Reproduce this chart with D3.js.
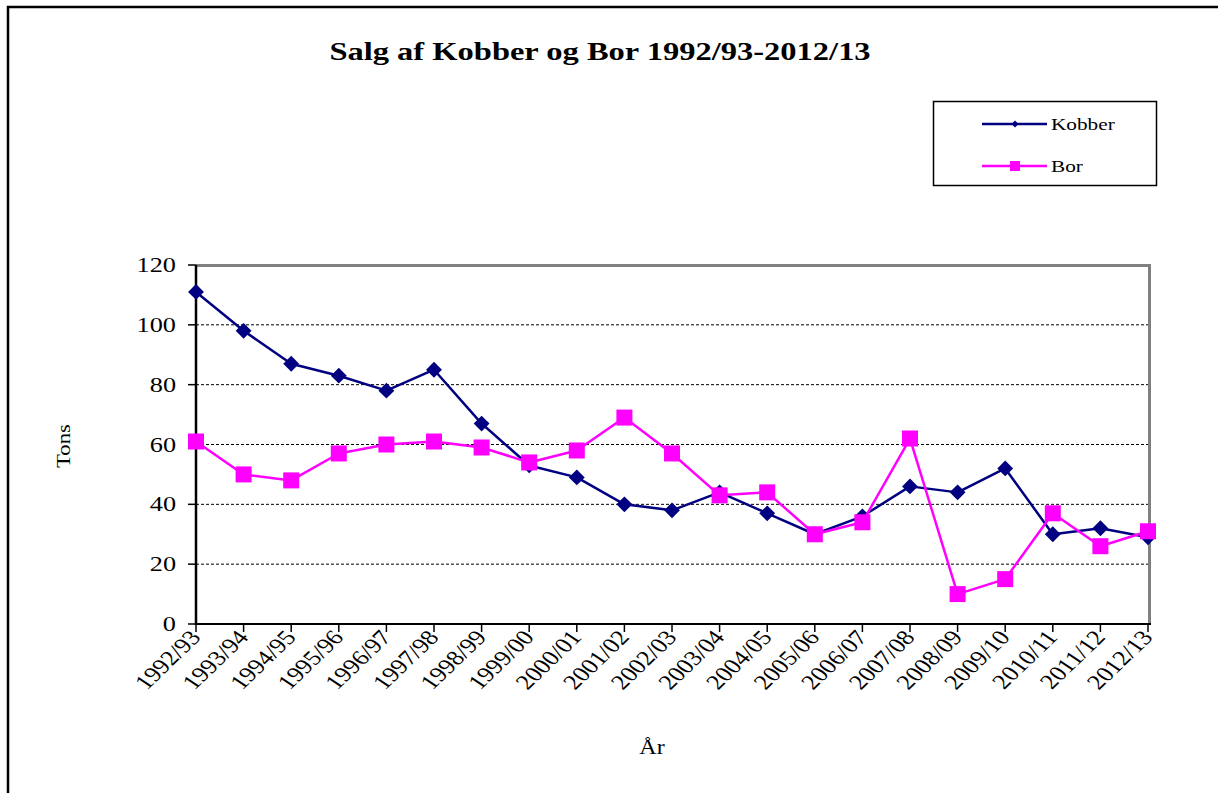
<!DOCTYPE html>
<html>
<head>
<meta charset="utf-8">
<script src="https://cdn.jsdelivr.net/npm/d3@7"></script>
<style>
  body { margin: 0; background: #fff; }
  svg { display: block; font-family: "Liberation Serif", "Times New Roman", serif; }
</style>
</head>
<body>
<div id="chart"></div>
<script>
var years = ["1992/93", "1993/94", "1994/95", "1995/96", "1996/97", "1997/98", "1998/99",
    "1999/00", "2000/01", "2001/02", "2002/03", "2003/04", "2004/05", "2005/06",
    "2006/07", "2007/08", "2008/09", "2009/10", "2010/11", "2011/12", "2012/13"];
var kobber = [111, 98, 87, 83, 78, 85, 67, 53, 49, 40, 38, 44, 37, 30, 36, 46, 44, 52, 30, 32, 29];
var bor = [61, 50, 48, 57, 60, 61, 59, 54, 58, 69, 57, 43, 44, 30, 34, 62, 10, 15, 37, 26, 31];
var yTicks = [0, 20, 40, 60, 80, 100, 120];

var width = 1218,
    height = 793,
    plot = { left: 196, right: 1148, top: 265, bottom: 624 },
    stretch = 1.25;

var svg = d3.select("#chart").append("svg")
    .attr("width", width)
    .attr("height", height);

// outer frame (only top and left are visible)
svg.append("path")
    .attr("d", "M8," + height + "V7H" + width)
    .attr("fill", "none")
    .attr("stroke", "#000")
    .attr("stroke-width", 2.5);

svg.append("text")
    .attr("transform", "translate(600,60) scale(1.3,1)")
    .attr("text-anchor", "middle")
    .attr("font-size", 25)
    .attr("font-weight", "bold")
    .text("Salg af Kobber og Bor 1992/93-2012/13");

var x = d3.scalePoint()
    .domain(years)
    .range([plot.left, plot.right]);
var y = d3.scaleLinear()
    .domain([0, 120])
    .range([plot.bottom, plot.top]);

// gridlines
svg.append("g").selectAll("line")
    .data(yTicks.filter(function(d) { return d > 0 && d < 120; }))
    .enter().append("line")
    .attr("x1", plot.left).attr("x2", plot.right + 2)
    .attr("y1", function(d) { return y(d); })
    .attr("y2", function(d) { return y(d); })
    .attr("stroke", "#000")
    .attr("stroke-width", 1)
    .attr("stroke-dasharray", "3,2");

// gray top and right border of plot area
svg.append("path")
    .attr("d", "M" + plot.left + "," + (plot.top + 0.5) + "H" + (plot.right + 1.5) + "V" + plot.bottom)
    .attr("fill", "none")
    .attr("stroke", "#808080")
    .attr("stroke-width", 3);

// y axis
var yAxis = svg.append("g");
yAxis.append("line")
    .attr("x1", plot.left).attr("x2", plot.left)
    .attr("y1", plot.top).attr("y2", plot.bottom + 1)
    .attr("stroke", "#000").attr("stroke-width", 2.5);
yAxis.selectAll("line.tick")
    .data(yTicks).enter().append("line")
    .attr("class", "tick")
    .attr("x1", plot.left - 8).attr("x2", plot.left)
    .attr("y1", function(d) { return y(d); })
    .attr("y2", function(d) { return y(d); })
    .attr("stroke", "#000").attr("stroke-width", 1.5);
yAxis.selectAll("text")
    .data(yTicks).enter().append("text")
    .attr("transform", function(d) { return "translate(" + (plot.left - 20) + "," + (y(d) + 7) + ") scale(" + stretch + ",1)"; })
    .attr("text-anchor", "end")
    .attr("font-size", 21)
    .text(function(d) { return d; });

// x axis
var xAxis = svg.append("g");
xAxis.append("line")
    .attr("x1", plot.left).attr("x2", plot.right + 3)
    .attr("y1", plot.bottom).attr("y2", plot.bottom)
    .attr("stroke", "#000").attr("stroke-width", 2);
xAxis.selectAll("line.tick")
    .data(years).enter().append("line")
    .attr("class", "tick")
    .attr("x1", function(d) { return x(d); })
    .attr("x2", function(d) { return x(d); })
    .attr("y1", plot.bottom).attr("y2", plot.bottom + 8)
    .attr("stroke", "#000").attr("stroke-width", 1.5);
xAxis.selectAll("text")
    .data(years).enter().append("text")
    .attr("transform", function(d) { return "translate(" + (x(d) + 6) + "," + (plot.bottom + 14) + ") scale(" + stretch + ",1) rotate(-50)"; })
    .attr("text-anchor", "end")
    .attr("font-size", 21)
    .text(function(d) { return d; });

svg.append("text")
    .attr("transform", "translate(" + 70 + ",446) rotate(-90) scale(1.2,1)")
    .attr("text-anchor", "middle")
    .attr("font-size", 19)
    .text("Tons");

svg.append("text")
    .attr("transform", "translate(652,754) scale(1.2,1)")
    .attr("text-anchor", "middle")
    .attr("font-size", 20)
    .text("År");

// series
var line = d3.line()
    .x(function(d, i) { return x(years[i]); })
    .y(function(d) { return y(d); });

svg.append("path")
    .datum(kobber)
    .attr("d", line)
    .attr("fill", "none")
    .attr("stroke", "#000080")
    .attr("stroke-width", 2.5)
    .attr("stroke-linejoin", "round");
svg.append("g").selectAll("path")
    .data(kobber).enter().append("path")
    .attr("d", d3.symbol().type(d3.symbolDiamond2).size(160))
    .attr("transform", function(d, i) { return "translate(" + x(years[i]) + "," + y(d) + ")"; })
    .attr("fill", "#000080");

svg.append("path")
    .datum(bor)
    .attr("d", line)
    .attr("fill", "none")
    .attr("stroke", "#ff00ff")
    .attr("stroke-width", 2.5)
    .attr("stroke-linejoin", "round");
svg.append("g").selectAll("rect")
    .data(bor).enter().append("rect")
    .attr("x", function(d, i) { return x(years[i]) - 8; })
    .attr("y", function(d) { return y(d) - 8; })
    .attr("width", 16).attr("height", 16)
    .attr("fill", "#ff00ff");

// legend
var legend = svg.append("g");
legend.append("rect")
    .attr("x", 933.5).attr("y", 101.5)
    .attr("width", 223).attr("height", 84)
    .attr("fill", "#fff")
    .attr("stroke", "#000").attr("stroke-width", 1.5);

var legendItems = [
    { name: "Kobber", color: "#000080", y: 124 },
    { name: "Bor", color: "#ff00ff", y: 166 }
];
var items = legend.selectAll("g.item")
    .data(legendItems).enter().append("g")
    .attr("class", "item")
    .attr("transform", function(d) { return "translate(0," + d.y + ")"; });
items.append("line")
    .attr("x1", 982).attr("x2", 1047)
    .attr("stroke", function(d) { return d.color; })
    .attr("stroke-width", 2.5);
items.filter(function(d) { return d.name === "Kobber"; }).append("path")
    .attr("d", d3.symbol().type(d3.symbolDiamond2).size(30))
    .attr("transform", "translate(1015,0)")
    .attr("fill", "#000080");
items.filter(function(d) { return d.name === "Bor"; }).append("rect")
    .attr("x", 1010).attr("y", -5).attr("width", 10).attr("height", 10)
    .attr("fill", "#ff00ff");
items.append("text")
    .attr("transform", "translate(1051,6) scale(1.25,1)")
    .attr("font-size", 17)
    .text(function(d) { return d.name; });
</script>
</body>
</html>
